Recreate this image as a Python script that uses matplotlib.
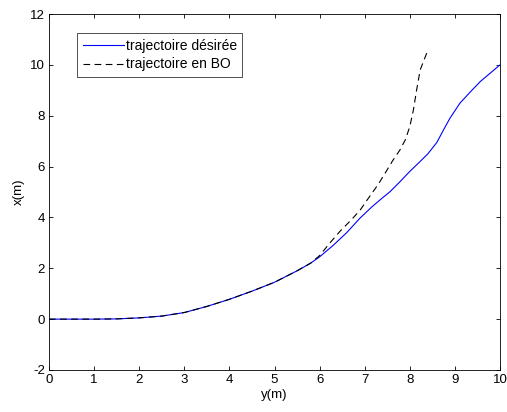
import numpy as np
import matplotlib
matplotlib.use('Agg')
import matplotlib.pyplot as plt

plt.rcParams['font.family'] = ['Liberation Sans', 'DejaVu Sans']
plt.rcParams['axes.unicode_minus'] = False

# trajectoire désirée
y_des = [0, 1, 1.5, 2, 2.5, 3, 3.5, 4, 4.5, 5, 5.5, 5.8, 6.0, 6.3, 6.6, 6.9,
         7.15, 7.34, 7.56, 7.78, 8.0, 8.2, 8.4, 8.6, 8.75, 8.89, 9.11, 9.35,
         9.56, 9.8, 10]
x_des = [0, 0, 0.01, 0.05, 0.12, 0.26, 0.5, 0.78, 1.1, 1.45, 1.9, 2.2, 2.45,
         2.9, 3.4, 3.98, 4.4, 4.69, 5.01, 5.4, 5.81, 6.15, 6.5, 6.95, 7.45,
         7.9, 8.49, 8.95, 9.34, 9.7, 10.0]

# trajectoire en BO
y_bo = [0, 1, 1.5, 2, 2.5, 3, 3.5, 4, 4.5, 5, 5.5, 5.8, 6.0, 6.23, 6.45, 6.7,
        6.9, 7.04, 7.3, 7.49, 7.63, 7.78, 7.9, 8.0, 8.08, 8.15, 8.23, 8.41]
x_bo = [0, 0, 0.01, 0.05, 0.12, 0.26, 0.5, 0.78, 1.1, 1.45, 1.9, 2.2, 2.5,
        3.0, 3.45, 3.9, 4.29, 4.65, 5.3, 5.85, 6.26, 6.65, 7.05, 7.57, 8.23,
        9.0, 9.8, 10.62]

fig = plt.figure(figsize=(5.07, 4.12), dpi=100)
ax = fig.add_axes([49 / 507, 42 / 412, 451 / 507, 356 / 412])

ax.plot(y_des, x_des, color='blue', linewidth=0.8, label='trajectoire désirée')
ax.plot(y_bo, x_bo, color='black', linewidth=0.8, dashes=(6, 4),
        label='trajectoire en BO')

ax.set_xlim(0, 10)
ax.set_ylim(-2, 12)
ax.set_xticks(range(0, 11))
ax.set_yticks(range(-2, 13, 2))
ax.tick_params(direction='in', length=3, width=0.6, top=True, right=True,
               labelsize=9.5, colors='black', pad=3)
for s in ax.spines.values():
    s.set_linewidth(0.6)

ax.set_xlabel('y(m)', fontsize=9.5, labelpad=2)
ax.set_ylabel('x(m)', fontsize=9.5, labelpad=4)

leg = ax.legend(loc='upper left', bbox_to_anchor=(28 / 451, 1 - 19 / 356),
                fontsize=10, frameon=True, fancybox=False, borderpad=0.4,
                handlelength=3.0, handletextpad=0.1, labelspacing=0.35,
                borderaxespad=0)
leg.get_frame().set_edgecolor('black')
leg.get_frame().set_linewidth(0.6)

fig.savefig('out.png', dpi=100)
